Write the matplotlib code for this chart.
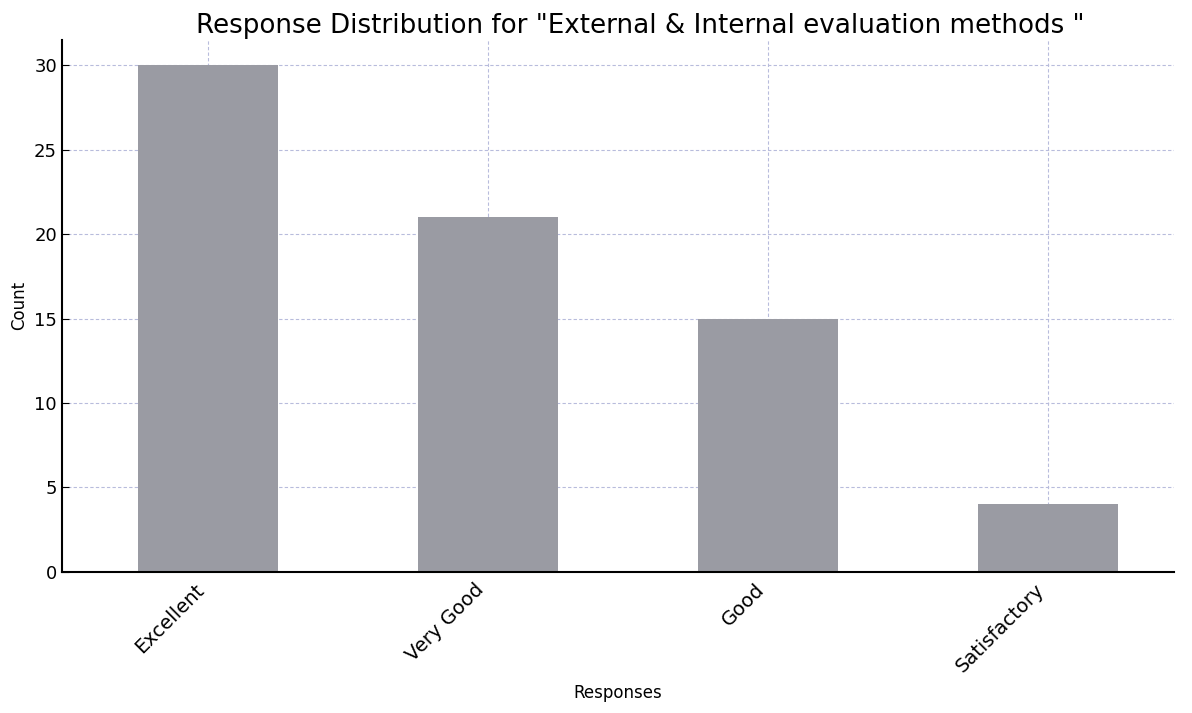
import matplotlib.pyplot as plt

categories = ["Excellent", "Very Good", "Good", "Satisfactory"]
counts = [30, 21, 15, 4]

TITLE = 'Response Distribution for "External & Internal evaluation methods "'


def main():
    fig, ax = plt.subplots(figsize=(11.92, 7.13), dpi=100)
    fig.subplots_adjust(left=0.052, right=0.985, top=0.944, bottom=0.198)

    x = range(len(categories))
    ax.bar(x, counts, width=0.5, color="#9a9ba3", zorder=2)

    ax.set_xticks(list(x))
    ax.set_xticklabels(categories, rotation=45, ha="right", fontsize=14)
    ax.set_xlim(-0.52, 3.45)
    ax.set_ylim(0, 31.5)
    ax.set_yticks([0, 5, 10, 15, 20, 25, 30])
    ax.tick_params(axis="both", direction="in", length=5)
    ax.tick_params(axis="y", labelsize=13)
    ax.tick_params(axis="x", pad=6)

    ax.grid(True, linestyle=(0, (3, 2)), color="#b8bcdc", linewidth=0.8, zorder=0)
    ax.spines["top"].set_visible(False)
    ax.spines["right"].set_visible(False)
    ax.spines["left"].set_linewidth(1.5)
    ax.spines["bottom"].set_linewidth(1.5)

    ax.set_title(TITLE, fontsize=18.8, pad=5, x=0.52)
    ax.set_xlabel("Responses", fontsize=12, labelpad=6)
    ax.set_ylabel("Count", fontsize=12)

    fig.savefig("out.png", dpi=100)


if __name__ == "__main__":
    main()
